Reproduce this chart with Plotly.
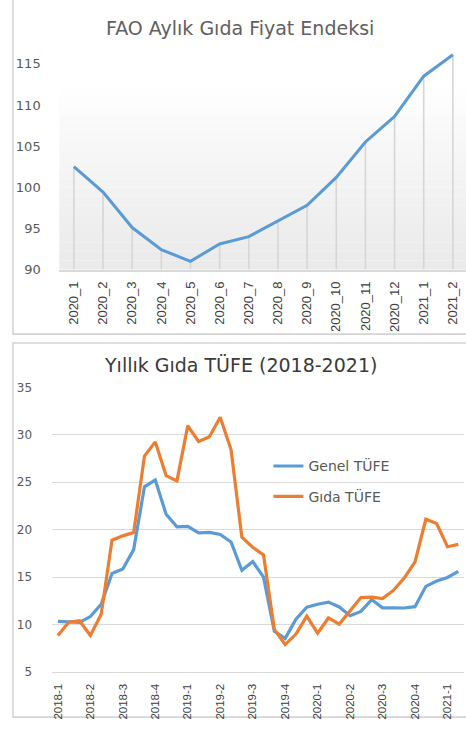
import plotly.graph_objects as go

# ---------------- data ----------------
fao_months = ["2020_1", "2020_2", "2020_3", "2020_4", "2020_5", "2020_6", "2020_7",
              "2020_8", "2020_9", "2020_10", "2020_11", "2020_12", "2021_1", "2021_2"]
fao_index = [102.5, 99.4, 95.1, 92.4, 91.0, 93.1, 94.0, 95.9, 97.8, 101.2, 105.5, 108.6, 113.5, 116.1]

months = [f"{y}-{m:02d}" for y in (2018, 2019, 2020) for m in range(1, 13)] + ["2021-01", "2021-02"]
quarter_labels = ["2018-1", "2018-2", "2018-3", "2018-4", "2019-1", "2019-2", "2019-3",
                  "2019-4", "2020-1", "2020-2", "2020-3", "2020-4", "2021-1"]
genel_tufe = [10.35, 10.26, 10.23, 10.85, 12.15, 15.39, 15.85, 17.90, 24.52, 25.24, 21.62, 20.30,
              20.35, 19.67, 19.71, 19.50, 18.71, 15.72, 16.65, 15.01, 9.3, 8.55, 10.56, 11.84,
              12.15, 12.37, 11.86, 10.94, 11.39, 12.62, 11.76, 11.77, 11.75, 11.89, 14.03, 14.60,
              14.97, 15.61]
gida_tufe = [8.86, 10.25, 10.4, 8.86, 11.1, 18.9, 19.35, 19.7, 27.75, 29.25, 25.7, 25.15,
             30.95, 29.3, 29.8, 31.85, 28.45, 19.2, 18.15, 17.35, 9.5, 7.9, 9.0, 10.9,
             9.1, 10.7, 10.05, 11.4, 12.85, 12.9, 12.75, 13.6, 14.9, 16.6, 21.1, 20.65,
             18.2, 18.45]

# ---------------- layout helpers ----------------
W, H = 466, 731
def px(x):
    return x / W
def py(y):
    return 1 - y / H

BLUE = "#5b9bd5"
ORANGE = "#ed7d31"
GRID = "#d9d9d9"
TXT = "#595959"

fig = go.Figure()

# drop lines (top chart)
fig.add_trace(go.Scatter(
    x=fao_months, y=fao_index, mode="markers", marker=dict(size=0.1, opacity=0),
    error_y=dict(type="data", symmetric=False, array=[0] * len(fao_index),
                 arrayminus=[v - 90 for v in fao_index], color="#d6d6d6", thickness=1.6, width=0),
    xaxis="x", yaxis="y", showlegend=False, hoverinfo="skip"))
fig.add_trace(go.Scatter(
    x=fao_months, y=fao_index, mode="lines", line=dict(color=BLUE, width=3),
    xaxis="x", yaxis="y", showlegend=False))

# bottom chart
fig.add_trace(go.Scatter(
    x=months, y=genel_tufe, mode="lines", name="Genel TÜFE", line=dict(color=BLUE, width=3.2),
    xaxis="x2", yaxis="y2", legend="legend"))
fig.add_trace(go.Scatter(
    x=months, y=gida_tufe, mode="lines", name="Gıda TÜFE", line=dict(color=ORANGE, width=3.2),
    xaxis="x2", yaxis="y2", legend="legend2"))

shapes = []
# gradient plot area background (top chart)
n = 24
for i in range(n):
    t = i / n  # 0 bottom -> 1 top
    g = int(round(234 + (255 - 234) * min(1.0, t / 0.85)))
    shapes.append(dict(type="rect", xref="x domain", yref="y domain", x0=0, x1=1,
                       y0=t, y1=(i + 1) / n, line=dict(width=0),
                       fillcolor=f"rgb({g},{g},{g})", layer="below"))
# panel borders
shapes.append(dict(type="rect", xref="paper", yref="paper", x0=px(12), x1=px(480),
                   y0=py(334), y1=py(-10), line=dict(color="#d4d4d4", width=1.6),
                   fillcolor="rgba(0,0,0,0)", layer="below"))
shapes.append(dict(type="rect", xref="paper", yref="paper", x0=px(12), x1=px(480),
                   y0=py(725), y1=py(343), line=dict(color="#d4d4d4", width=1.6),
                   fillcolor="rgba(0,0,0,0)", layer="below"))

fig.update_layout(
    width=W, height=H, margin=dict(l=0, r=0, t=0, b=0),
    paper_bgcolor="white", plot_bgcolor="rgba(0,0,0,0)",
    font=dict(family="DejaVu Sans", color=TXT),
    shapes=shapes,
    xaxis=dict(domain=[px(58.4), 1], range=[-0.5, 13.45], type="category",
               showgrid=False, showline=True, linecolor="#d9d9d9", linewidth=1.5,
               tickangle=-90, ticks="outside", ticklen=5, tickcolor="rgba(0,0,0,0)",
               tickfont=dict(family="Liberation Sans", size=13, color="#404040"),
               anchor="y", zeroline=False),
    yaxis=dict(domain=[py(268), py(45)], range=[90, 116.55], tickvals=[90, 95, 100, 105, 110, 115],
               showgrid=False, showline=False, zeroline=False,
               ticks="outside", ticklen=15, tickcolor="rgba(0,0,0,0)",
               tickfont=dict(family="DejaVu Sans", size=13, color=TXT), anchor="x"),
    xaxis2=dict(domain=[px(51.6), px(463.7)], range=[-0.5, 37.5], type="category",
                tickvals=months[::3], ticktext=quarter_labels,
                showgrid=False, showline=True, linecolor=GRID, linewidth=1.3,
                tickangle=-90, ticks="outside", ticklen=6, tickcolor="rgba(0,0,0,0)",
                tickfont=dict(family="Liberation Sans", size=11.5, color="#404040"),
                anchor="y2", zeroline=False),
    yaxis2=dict(domain=[py(679), py(388.3)], range=[5, 35], dtick=5,
                showgrid=True, gridcolor=GRID, gridwidth=1.3, zeroline=False,
                ticks="outside", ticklen=17, tickcolor="rgba(0,0,0,0)",
                tickfont=dict(family="DejaVu Sans", size=12, color=TXT), anchor="x2"),
    legend=dict(x=px(268), y=py(469), xanchor="left", yanchor="middle",
                bgcolor="rgba(0,0,0,0)", font=dict(family="DejaVu Sans", size=14, color=TXT)),
    legend2=dict(x=px(268), y=py(500), xanchor="left", yanchor="middle",
                 bgcolor="rgba(0,0,0,0)", font=dict(family="DejaVu Sans", size=14, color=TXT)),
    annotations=[
        dict(text="FAO Aylık Gıda Fiyat Endeksi", xref="paper", yref="paper",
             x=px(240), y=py(21), xanchor="center", yanchor="middle", showarrow=False,
             font=dict(family="DejaVu Sans", size=19, color="#606060")),
        dict(text="Yıllık Gıda TÜFE (2018-2021)", xref="paper", yref="paper",
             x=px(240), y=py(365), xanchor="center", yanchor="middle", showarrow=False,
             font=dict(family="DejaVu Sans", size=19, color="#3a3a3a")),
    ],
)

fig.write_html("out.html", config={"displayModeBar": False},
               post_script="document.body.style.margin='0';document.body.style.overflow='hidden';")
